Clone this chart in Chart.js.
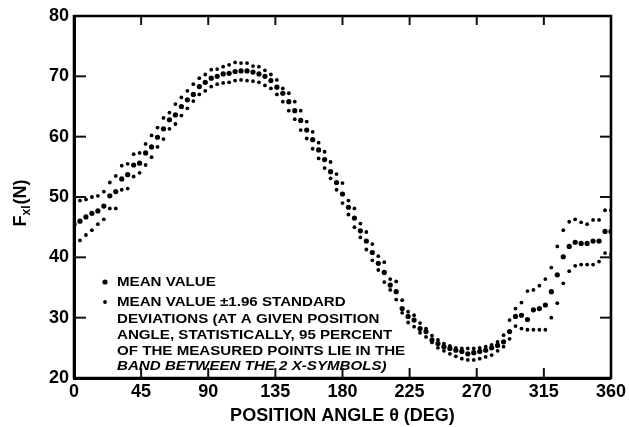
<!DOCTYPE html>
<html>
<head>
<meta charset="utf-8">
<script src="https://cdn.jsdelivr.net/npm/chart.js@4/dist/chart.umd.min.js"></script>
</head>
<body style="margin:0">
<canvas id="c" width="629" height="427"></canvas>
<script>
// Position angle (deg)
const angles = [0,4,8,12,16,20,24,28,32,36,40,44,48,52,56,60,64,68,72,76,80,84,88,92,96,100,104,108,112,116,120,124,128,132,136,140,144,148,152,156,160,164,168,172,176,180,184,188,192,196,200,204,208,212,216,220,224,228,232,236,240,244,248,252,256,260,264,268,272,276,280,284,288,292,296,300,304,308,312,316,320,324,328,332,336,340,344,348,352,356,360];

// Mean value + 1.96 SD
const upperValues = [49.5,49.4,49.6,50.0,50.2,50.9,52.4,53.5,55.2,55.5,57.1,57.3,58.8,60.2,61.5,63.1,64.0,65.4,66.5,67.6,68.7,69.7,70.3,71.1,71.2,71.6,71.9,72.3,72.2,72.2,71.7,71.6,71.0,70.3,69.4,68.0,67.2,65.8,64.3,62.5,60.8,59.0,57.5,55.8,53.8,52.3,49.4,48.1,45.6,44.2,42.2,40.2,39.2,36.4,36.0,32.9,31.0,30.4,29.1,28.2,27.0,26.3,25.7,25.3,25.0,24.9,24.9,24.9,25.0,25.2,25.5,26.0,27.1,29.6,31.5,32.5,34.4,34.6,35.3,36.4,38.3,41.8,44.5,45.9,46.3,45.8,45.5,46.2,46.2,47.8,47.8];

// Mean value
const meanValues = [45.5,46.0,46.7,47.3,47.7,48.5,50.2,50.9,53.0,53.7,55.3,55.6,57.3,58.3,59.9,61.3,62.8,63.6,65.0,66.1,67.0,68.3,69.0,69.7,70.0,70.4,70.5,70.8,70.9,70.9,70.7,70.4,70.0,69.3,68.2,67.2,65.8,64.3,62.7,61.1,59.5,57.8,56.2,54.2,52.4,50.5,48.3,46.5,44.4,42.7,40.8,39.0,37.5,35.4,34.3,31.5,30.2,29.6,28.2,27.7,26.3,25.7,25.2,24.9,24.6,24.4,24.0,24.2,24.4,24.6,25.0,25.4,26.0,27.7,30.2,30.4,29.7,31.3,31.5,32.1,34.3,37.1,40.1,41.8,42.5,42.3,42.3,42.7,42.7,44.3,44.3];

// Mean value - 1.96 SD
const lowerValues = [42.5,42.8,43.7,44.5,45.5,46.3,48.1,48.1,51.2,51.4,53.4,54.0,55.3,56.6,58.3,59.6,61.3,62.1,63.5,64.7,65.9,67.0,67.6,68.3,68.7,68.9,69.0,69.3,69.4,69.3,69.2,69.0,68.5,68.0,67.0,65.8,64.3,62.9,61.1,59.7,58.0,56.4,54.8,53.1,51.2,49.0,47.1,45.0,43.3,41.3,39.5,37.9,35.9,34.6,33.0,30.8,29.2,28.5,27.5,26.8,25.9,25.0,24.5,24.0,23.6,23.2,23.0,23.0,23.2,23.5,23.8,24.5,25.2,26.5,28.6,28.2,28.0,28.0,28.0,28.0,30.0,32.4,35.7,37.7,38.6,38.8,38.8,38.8,39.3,40.7,40.5];

// Axes
const xTicks = [0,45,90,135,180,225,270,315,360];
const yTicks = [20,30,40,50,60,70,80];
const xTitle = "POSITION ANGLE \u03B8 (DEG)";
const yTitleMain = "F";
const yTitleSub = "xl";
const yTitleUnit = "(N)";

// Legend text
const legendLines = [
  "MEAN VALUE",
  "MEAN VALUE \u00B11.96 STANDARD",
  "DEVIATIONS (AT A GIVEN POSITION",
  "ANGLE, STATISTICALLY, 95 PERCENT",
  "OF THE MEASURED POINTS LIE IN THE",
  "BAND BETWEEN THE 2 X-SYMBOLS)"
];

const FONT = "'Liberation Sans', Arial, sans-serif";

function pts(vals) { return angles.map((a, i) => ({ x: a, y: vals[i] })); }

const framePlugin = {
  id: 'frame',
  beforeDatasetsDraw(chart) {
    const ctx = chart.ctx;
    const a = chart.chartArea;
    ctx.save();
    ctx.strokeStyle = '#000000';
    ctx.lineWidth = 2.6;
    ctx.beginPath();
    ctx.rect(a.left, a.top, a.right - a.left, a.bottom - a.top);
    ctx.stroke();
    ctx.restore();
  },
  afterDraw(chart) {
    const ctx = chart.ctx;
    const a = chart.chartArea;
    const xs = chart.scales.x, ys = chart.scales.y;
    ctx.save();
    ctx.fillStyle = '#111111';
    xTicks.slice(1, -1).forEach(v => {
      const px = xs.getPixelForValue(v);
      ctx.fillRect(px - 1, a.top, 2, 9);
      ctx.fillRect(px - 1, a.bottom - 10, 2, 10);
    });
    yTicks.slice(1, -1).forEach(v => {
      const py = ys.getPixelForValue(v);
      ctx.fillRect(a.left, py - 1, 12, 2);
      ctx.fillRect(a.right - 11, py - 1, 11, 2);
    });
    ctx.fillStyle = '#000';

    // Y axis title with subscript
    ctx.save();
    ctx.translate(20, 203);
    ctx.rotate(-Math.PI / 2);
    ctx.textBaseline = 'alphabetic';
    const big = "bold 18px " + FONT, small = "bold 12px " + FONT;
    ctx.font = big; const w1 = ctx.measureText(yTitleMain).width;
    ctx.font = small; const w2 = ctx.measureText(yTitleSub).width;
    ctx.font = big; const w3 = ctx.measureText(yTitleUnit).width;
    let x0 = -(w1 + w2 + w3 + 1) / 2;
    const base = 6;
    ctx.font = big; ctx.fillText(yTitleMain, x0, base); x0 += w1;
    ctx.font = small; ctx.fillText(yTitleSub, x0, base + 4); x0 += w2 + 1;
    ctx.font = big; ctx.fillText(yTitleUnit, x0, base);
    ctx.restore();

    // Legend text block
    ctx.textBaseline = 'middle';
    const lx = 117;
    const ly = [282, 302, 319, 335, 351, 366];
    legendLines.forEach((t, i) => {
      ctx.save();
      ctx.translate(lx, ly[i]);
      ctx.scale(1.12, 1);
      ctx.font = (i === 5 ? "italic bold 13.5px " : "bold 13.5px ") + FONT;
      ctx.fillText(t, 0, 0);
      ctx.restore();
    });
    ctx.beginPath(); ctx.arc(105, 282, 2.6, 0, Math.PI * 2); ctx.fill();
    ctx.beginPath(); ctx.arc(105, 302, 1.9, 0, Math.PI * 2); ctx.fill();
    ctx.restore();
  }
};

new Chart(document.getElementById('c'), {
  type: 'scatter',
  data: {
    datasets: [
      { label: 'Mean + 1.96 SD', data: pts(upperValues), pointRadius: 1.9, backgroundColor: '#000', borderWidth: 0, pointHoverRadius: 1.9 },
      { label: 'Mean value', data: pts(meanValues), pointRadius: 2.6, backgroundColor: '#000', borderWidth: 0, pointHoverRadius: 2.6 },
      { label: 'Mean - 1.96 SD', data: pts(lowerValues), pointRadius: 1.9, backgroundColor: '#000', borderWidth: 0, pointHoverRadius: 1.9 }
    ]
  },
  options: {
    responsive: false,
    animation: false,
    events: [],
    layout: { padding: { top: 16, right: 16, left: 0, bottom: 0 } },
    plugins: { legend: { display: false }, tooltip: { enabled: false } },
    scales: {
      x: {
        type: 'linear', min: 0, max: 360,
        afterBuildTicks(s) { s.ticks = xTicks.map(v => ({ value: v })); },
        afterFit(s) { s.height = 49; },
        grid: { display: false, drawTicks: false },
        border: { display: true, color: '#000', width: 3 },
        ticks: { color: '#000', padding: 3, maxRotation: 0, autoSkip: false, font: { family: FONT, size: 18, weight: 'bold' } },
        title: { display: true, text: xTitle, color: '#000', padding: 0, font: { family: FONT, size: 18, weight: 'bold' } }
      },
      y: {
        type: 'linear', min: 20, max: 80,
        afterBuildTicks(s) { s.ticks = yTicks.map(v => ({ value: v })); },
        afterFit(s) { s.width = 74; },
        grid: { display: false, drawTicks: false },
        border: { display: true, color: '#000', width: 3 },
        ticks: { color: '#000', padding: 5, font: { family: FONT, size: 18, weight: 'bold' } }
      }
    }
  },
  plugins: [framePlugin]
});
</script>
</body>
</html>
